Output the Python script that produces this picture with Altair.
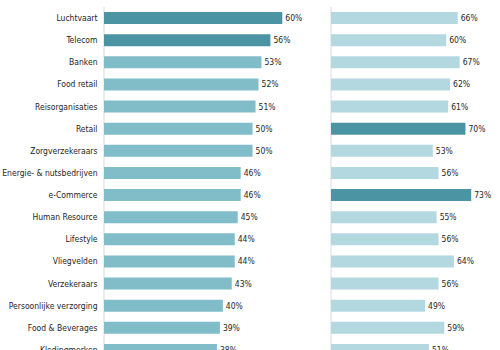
import altair as alt
import pandas as pd

categories = ["Luchtvaart", "Telecom", "Banken", "Food retail", "Reisorganisaties",
              "Retail", "Zorgverzekeraars", "Energie- & nutsbedrijven", "e-Commerce",
              "Human Resource", "Lifestyle", "Vliegvelden", "Verzekeraars",
              "Persoonlijke verzorging", "Food & Beverages", "Kledingmerken"]
left_values = [60, 56, 53, 52, 51, 50, 50, 46, 46, 45, 44, 44, 43, 40, 39, 38]
right_values = [66, 60, 67, 62, 61, 70, 53, 56, 73, 55, 56, 64, 56, 49, 59, 51]
highlight_left = ["Luchtvaart", "Telecom"]
highlight_right = ["Retail", "e-Commerce"]

DARK = "#4b94a4"
MID = "#80bdc9"
LIGHT = "#b4d8e0"
FONT = "'DejaVu Sans Condensed', Lato, sans-serif"

df = pd.DataFrame({"cat": categories, "left": left_values, "right": right_values})
df["left_lbl"] = df["left"].astype(str) + "%"
df["right_lbl"] = df["right"].astype(str) + "%"
df["zero"] = 0

y = alt.Y("cat:N", sort=categories,
          scale=alt.Scale(range=[0, 354], paddingInner=0.46, paddingOuter=0.23),
          axis=alt.Axis(title=None, domain=False, ticks=False, labelPadding=7,
                        labelFont=FONT, labelFontSize=8.5, labelColor="#262626",
                        labelLimit=200))

base = alt.Chart(df)


def xs(field, dom, rng):
    return alt.X(field, scale=alt.Scale(domain=dom, range=rng), axis=None)


LD, LR = [0, 70], [0, 208]
RD, RR = [0, 88], [227, 396]

left_rule = base.mark_rule(color="#ececec", strokeWidth=1).encode(
    x=xs("zero:Q", LD, LR))
left_bar = base.mark_bar().encode(
    x=xs("left:Q", LD, LR),
    y=y,
    color=alt.condition(alt.FieldOneOfPredicate(field="cat", oneOf=highlight_left),
                        alt.value(DARK), alt.value(MID)),
)
left_txt = base.mark_text(align="left", baseline="middle", dx=3, font=FONT,
                          fontSize=8.5, color="#262626").encode(
    x=xs("left:Q", LD, LR), y=y, text="left_lbl:N")

right_rule = base.mark_rule(color="#ececec", strokeWidth=1).encode(
    x=xs("zero:Q", RD, RR))
right_bar = base.mark_bar().encode(
    x=xs("right:Q", RD, RR),
    y=y,
    color=alt.condition(alt.FieldOneOfPredicate(field="cat", oneOf=highlight_right),
                        alt.value(DARK), alt.value(LIGHT)),
)
right_txt = base.mark_text(align="left", baseline="middle", dx=3, font=FONT,
                           fontSize=8.5, color="#262626").encode(
    x=xs("right:Q", RD, RR), y=y, text="right_lbl:N")

chart = alt.layer(left_rule, left_bar, left_txt,
                  right_rule, right_bar, right_txt).resolve_scale(
    x="independent").properties(
    width=396, height=343,
    autosize=alt.AutoSizeParams(type="none"),
    padding={"left": 104, "top": 7, "right": 0, "bottom": 0},
    background="white",
).configure_view(stroke=None)

chart.save("out.html", embed_options={"renderer": "svg", "actions": False})
